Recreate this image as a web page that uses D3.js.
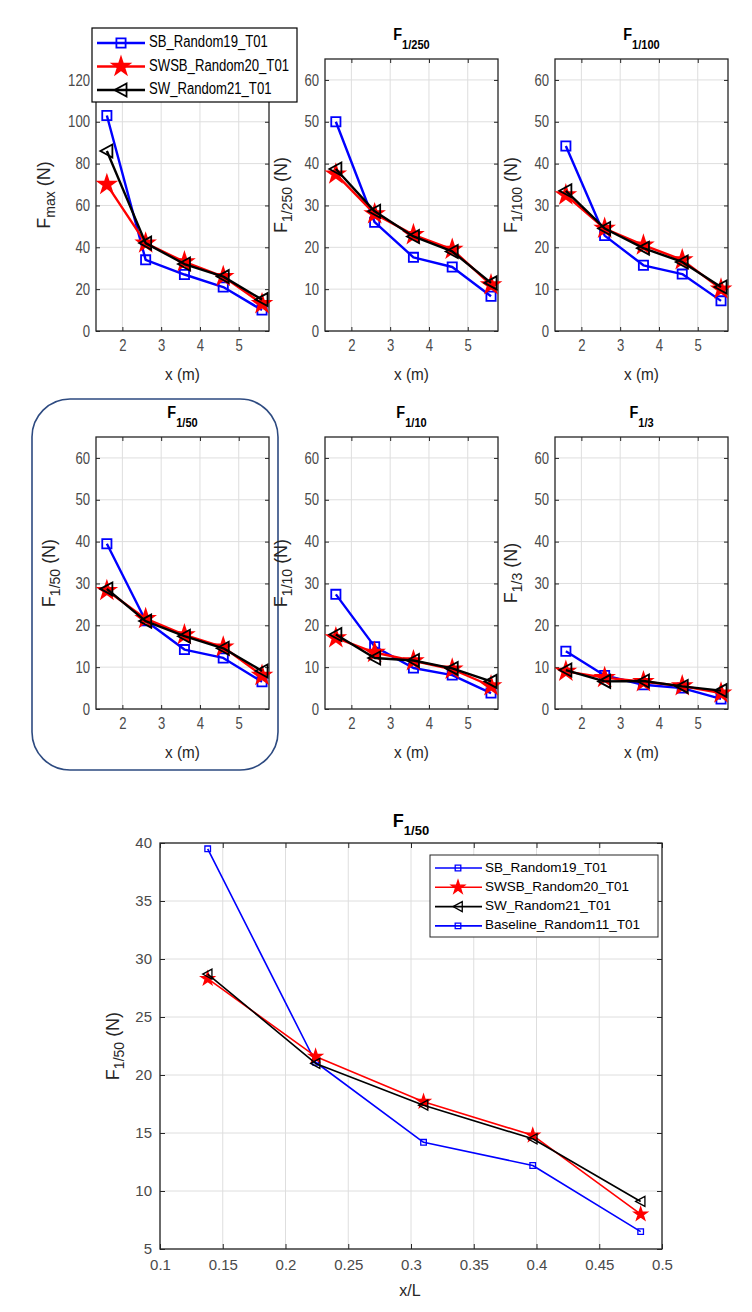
<!DOCTYPE html>
<html><head><meta charset="utf-8">
<script src="https://cdn.jsdelivr.net/npm/d3@7"></script>
<style>body{margin:0;background:#fff} svg{display:block}</style>
</head><body>
<svg id="c" width="752" height="1312"></svg>
<script>
// ---------- data ----------
const xPos = [1.6, 2.6, 3.6, 4.6, 5.6];
const xOverL = [0.138, 0.224, 0.310, 0.397, 0.483];
const seriesNames = ["SB_Random19_T01", "SWSB_Random20_T01", "SW_Random21_T01"];
const bottomLegendNames = ["SB_Random19_T01", "SWSB_Random20_T01", "SW_Random21_T01", "Baseline_Random11_T01"];

const fmaxSB   = [103, 34, 27, 21, 10];
const fmaxSWSB = [70, 42, 33, 26, 13];
const fmaxSW   = [86, 42, 32, 26, 15];
const f250SB   = [50, 26, 17.6, 15.3, 8.3];
const f250SWSB = [37.5, 28, 23, 19.5, 11];
const f250SW   = [38.7, 28.6, 22.6, 19, 11.5];
const f100SB   = [44.2, 22.8, 15.7, 13.6, 7.2];
const f100SWSB = [32.5, 24.5, 20.5, 17, 10];
const f100SW   = [33.5, 24.5, 19.8, 16.5, 10.5];
const f50SB    = [39.5, 21.1, 14.2, 12.2, 6.5];
const f50SWSB  = [28.3, 21.6, 17.7, 14.8, 8.0];
const f50SW    = [28.7, 21.0, 17.4, 14.5, 9.1];
const f10SB    = [27.4, 14.9, 9.8, 8.1, 3.8];
const f10SWSB  = [17, 13.5, 11.5, 9.5, 5.5];
const f10SW    = [17.8, 12.2, 11.6, 9.7, 6.6];
const f3SB     = [13.8, 8, 5.8, 5, 2.4];
const f3SWSB   = [9, 7.5, 6.5, 5.5, 3.8];
const f3SW     = [9.3, 6.6, 6.7, 5.4, 4.4];

const panelXTicks = [2, 3, 4, 5];
const yTicksMax = [0, 20, 40, 60, 80, 100, 120];
const yTicks65 = [0, 10, 20, 30, 40, 50, 60];
const bottomXTicks = [0.1, 0.15, 0.2, 0.25, 0.3, 0.35, 0.4, 0.45, 0.5];
const bottomYTicks = [5, 10, 15, 20, 25, 30, 35, 40];

// ---------- styles ----------
const SANS = "'Liberation Sans',Arial,Helvetica,sans-serif";
const styles = [
  {color: "#0000ff", marker: "square", fill: "none"},
  {color: "#ff0000", marker: "star", fill: "#ff0000"},
  {color: "#000000", marker: "tri", fill: "none"}
];
function markerPath(type, s) {
  if (type === "square") return `M${-s},${-s}h${2*s}v${2*s}h${-2*s}Z`;
  if (type === "star") return d3.symbol(d3.symbolStar, (s*s)/0.8908)();
  return `M${-s},0L${s*0.85},${-s}L${s*0.85},${s}Z`;
}
// horizontally condense text (emulates the narrow face of the reference)
function squeeze(sel, k) {
  if (k === 1) return;
  sel.each(function () {
    const t = d3.select(this);
    const x = +t.attr("x") || 0, y = +t.attr("y") || 0;
    t.attr("x", 0).attr("y", 0).attr("transform", `translate(${x},${y}) scale(${k},1)`);
  });
}

const svg = d3.select("#c");

function drawPanel(cfg) {
  const g = svg.append("g");
  const x = d3.scaleLinear().domain(cfg.xDomain).range([cfg.left, cfg.left + cfg.width]);
  const y = d3.scaleLinear().domain(cfg.yDomain).range([cfg.top + cfg.height, cfg.top]);
  const B = cfg.top + cfg.height, R = cfg.left + cfg.width;
  g.append("rect").attr("x", cfg.left).attr("y", cfg.top).attr("width", cfg.width).attr("height", cfg.height).attr("fill", "#fff");
  g.selectAll(".gx").data(cfg.xTicks).enter().append("line")
    .attr("x1", d => x(d)).attr("x2", d => x(d)).attr("y1", cfg.top).attr("y2", B)
    .attr("stroke", "#dedede").attr("stroke-width", 1);
  g.selectAll(".gy").data(cfg.yTicks).enter().append("line")
    .attr("y1", d => y(d)).attr("y2", d => y(d)).attr("x1", cfg.left).attr("x2", R)
    .attr("stroke", "#dedede").attr("stroke-width", 1);
  const tl = cfg.tickLen;
  const ax = g.append("g").attr("transform", `translate(0,${B})`)
    .call(d3.axisBottom(x).tickValues(cfg.xTicks).tickSize(-tl).tickFormat(cfg.xFormat || d3.format("")).tickPadding(cfg.xPad));
  const axT = g.append("g").attr("transform", `translate(0,${cfg.top})`)
    .call(d3.axisTop(x).tickValues(cfg.xTicks).tickSize(-tl).tickFormat(""));
  const ay = g.append("g").attr("transform", `translate(${cfg.left},0)`)
    .call(d3.axisLeft(y).tickValues(cfg.yTicks).tickSize(-tl).tickFormat(d3.format("")).tickPadding(cfg.yPad));
  const ayR = g.append("g").attr("transform", `translate(${R},0)`)
    .call(d3.axisRight(y).tickValues(cfg.yTicks).tickSize(-tl).tickFormat(""));
  [ax, axT, ay, ayR].forEach(a => {
    a.select(".domain").remove();
    a.selectAll(".tick line").attr("stroke", "#262626").attr("stroke-width", 1);
    a.selectAll("text").attr("fill", "#4a4a4a").style("font-family", SANS).style("font-size", cfg.tickFont + "px");
  });
  squeeze(ax.selectAll("text"), cfg.kTick);
  squeeze(ay.selectAll("text"), cfg.kTick);
  g.append("rect").attr("x", cfg.left).attr("y", cfg.top).attr("width", cfg.width).attr("height", cfg.height)
    .attr("fill", "none").attr("stroke", "#262626").attr("stroke-width", 1.3);
  const line = d3.line().x(d => x(d[0])).y(d => y(d[1]));
  cfg.series.forEach((vals, i) => {
    const st = styles[i];
    const pts = cfg.xs.map((xv, j) => [xv, vals[j]]);
    g.append("path").attr("d", line(pts)).attr("fill", "none").attr("stroke", st.color)
      .attr("stroke-width", cfg.lineW).attr("stroke-linejoin", "round");
    g.selectAll(null).data(pts).enter().append("path")
      .attr("transform", d => `translate(${x(d[0])},${y(d[1])})`)
      .attr("d", markerPath(st.marker, cfg.mk[st.marker]))
      .attr("fill", st.fill).attr("stroke", st.color).attr("stroke-width", cfg.mkW);
  });
  const cx = cfg.left + cfg.width / 2;
  const t = g.append("text").attr("x", cx).attr("y", cfg.titleY).attr("text-anchor", "middle")
    .style("font-family", SANS).style("font-weight", "bold").attr("fill", "#000");
  t.append("tspan").style("font-size", cfg.titleFont + "px").text("F");
  t.append("tspan").attr("dy", cfg.titleSubDy).style("font-size", cfg.titleSubFont + "px").text(cfg.title);
  squeeze(t, cfg.kTitle);
  const xl = g.append("text").attr("x", cfg.xlabelX || cx).attr("y", cfg.xlabelY).attr("text-anchor", "middle")
    .attr("dominant-baseline", "middle").attr("fill", "#262626")
    .style("font-family", SANS).style("font-size", cfg.labelFont + "px").text(cfg.xlabel);
  squeeze(xl, cfg.kLabel);
  const cy = cfg.top + cfg.height / 2;
  const yl = g.append("text").attr("transform", `translate(${cfg.ylabelX},${cy}) rotate(-90)`)
    .attr("text-anchor", "middle").attr("fill", "#262626")
    .style("font-family", SANS).style("font-size", cfg.ylabelFont + "px");
  yl.append("tspan").text("F");
  yl.append("tspan").attr("dy", 5).style("font-size", (cfg.ylabelFont - 4) + "px").text(cfg.ylabelSub);
  yl.append("tspan").attr("dy", -5).text(" (N)");
  return {x, y};
}

// rounded highlight frame (row 2, col 1)
svg.append("rect").attr("x", 32).attr("y", 399).attr("width", 246).attr("height", 371)
  .attr("rx", 38).attr("ry", 38).attr("fill", "none").attr("stroke", "#2d4a80").attr("stroke-width", 1.6);

const cols = [96, 325, 555];
const rows = [59, 437];
const panelMk = {square: 4.6, star: 9, tri: 6.5};
const panelDefs = [
  {r: 0, c: 0, title: "max", yDomain: [0, 130], yTicks: yTicksMax, series: [fmaxSB, fmaxSWSB, fmaxSW], ylabelOff: 46},
  {r: 0, c: 1, title: "1/250", yDomain: [0, 65], yTicks: yTicks65, series: [f250SB, f250SWSB, f250SW], ylabelOff: 38},
  {r: 0, c: 2, title: "1/100", yDomain: [0, 65], yTicks: yTicks65, series: [f100SB, f100SWSB, f100SW], ylabelOff: 38},
  {r: 1, c: 0, title: "1/50", yDomain: [0, 65], yTicks: yTicks65, series: [f50SB, f50SWSB, f50SW], ylabelOff: 41},
  {r: 1, c: 1, title: "1/10", yDomain: [0, 65], yTicks: yTicks65, series: [f10SB, f10SWSB, f10SW], ylabelOff: 38},
  {r: 1, c: 2, title: "1/3", yDomain: [0, 65], yTicks: yTicks65, series: [f3SB, f3SWSB, f3SW], ylabelOff: 38}
];
panelDefs.forEach(p => {
  const top = rows[p.r];
  drawPanel({
    left: cols[p.c], top: top, width: 173, height: 272,
    xDomain: [1.32, 5.78], yDomain: p.yDomain, xTicks: panelXTicks, yTicks: p.yTicks,
    xs: xPos, series: p.series, tickFont: 16, kTick: 0.82, labelFont: 17, kLabel: 0.9, ylabelFont: 18,
    tickLen: 4, xPad: 9, yPad: 6, lineW: 2.4, mkW: 1.8, mk: panelMk,
    title: p.title, titleY: top - 19, titleSubDy: 9, titleFont: 17, titleSubFont: 13, kTitle: 0.85,
    xlabel: "x (m)", xlabelY: top + 272 + 45,
    ylabelX: cols[p.c] - p.ylabelOff, ylabelSub: p.title
  });
});
// legend (top) - drawn over the first panel's title, as in the reference
const lg = svg.append("g");
lg.append("rect").attr("x", 92).attr("y", 28).attr("width", 205).attr("height", 74)
  .attr("fill", "#fff").attr("stroke", "#000").attr("stroke-width", 1.2);
seriesNames.forEach((n, i) => {
  const yy = 43 + i * 23.5, st = styles[i];
  lg.append("line").attr("x1", 97).attr("x2", 145).attr("y1", yy).attr("y2", yy)
    .attr("stroke", st.color).attr("stroke-width", 2.4);
  lg.append("path").attr("transform", `translate(121,${yy})`)
    .attr("d", markerPath(st.marker, panelMk[st.marker]))
    .attr("fill", st.fill).attr("stroke", st.color).attr("stroke-width", 1.8);
  const tx = lg.append("text").attr("x", 149).attr("y", yy).attr("dominant-baseline", "middle")
    .style("font-family", SANS).style("font-size", "16px").attr("fill", "#000").text(n);
  squeeze(tx, 0.82);
});

// ---------- bottom chart ----------
const botMk = {square: 2.8, star: 7, tri: 5};
drawPanel({
  left: 160, top: 843, width: 502, height: 406,
  xDomain: [0.1, 0.5], yDomain: [5, 40], xTicks: bottomXTicks, yTicks: bottomYTicks,
  xFormat: d => String(+d.toFixed(2)),
  xs: xOverL, series: [f50SB, f50SWSB, f50SW], tickFont: 15, kTick: 1, labelFont: 16, kLabel: 1, ylabelFont: 18,
  tickLen: 5, xPad: 10, yPad: 8, lineW: 1.6, mkW: 1.3, mk: botMk,
  title: "1/50", titleY: 827, titleSubDy: 8, titleFont: 18, titleSubFont: 13, kTitle: 1,
  xlabel: "x/L", xlabelX: 410, xlabelY: 1292,
  ylabelX: 119, ylabelSub: "1/50"
});
const blg = svg.append("g");
blg.append("rect").attr("x", 430).attr("y", 855).attr("width", 228).attr("height", 82)
  .attr("fill", "#fff").attr("stroke", "#262626").attr("stroke-width", 1);
bottomLegendNames.forEach((n, i) => {
  const yy = 868 + i * 19.3, st = styles[i === 3 ? 0 : i];
  blg.append("line").attr("x1", 435).attr("x2", 482).attr("y1", yy).attr("y2", yy)
    .attr("stroke", st.color).attr("stroke-width", 1.6);
  blg.append("path").attr("transform", `translate(458,${yy})`)
    .attr("d", markerPath(st.marker, botMk[st.marker]))
    .attr("fill", st.fill).attr("stroke", st.color).attr("stroke-width", 1.3);
  blg.append("text").attr("x", 485).attr("y", yy).attr("dominant-baseline", "middle")
    .style("font-family", SANS).style("font-size", "13.5px").attr("fill", "#000").text(n);
});
</script>
</body></html>
